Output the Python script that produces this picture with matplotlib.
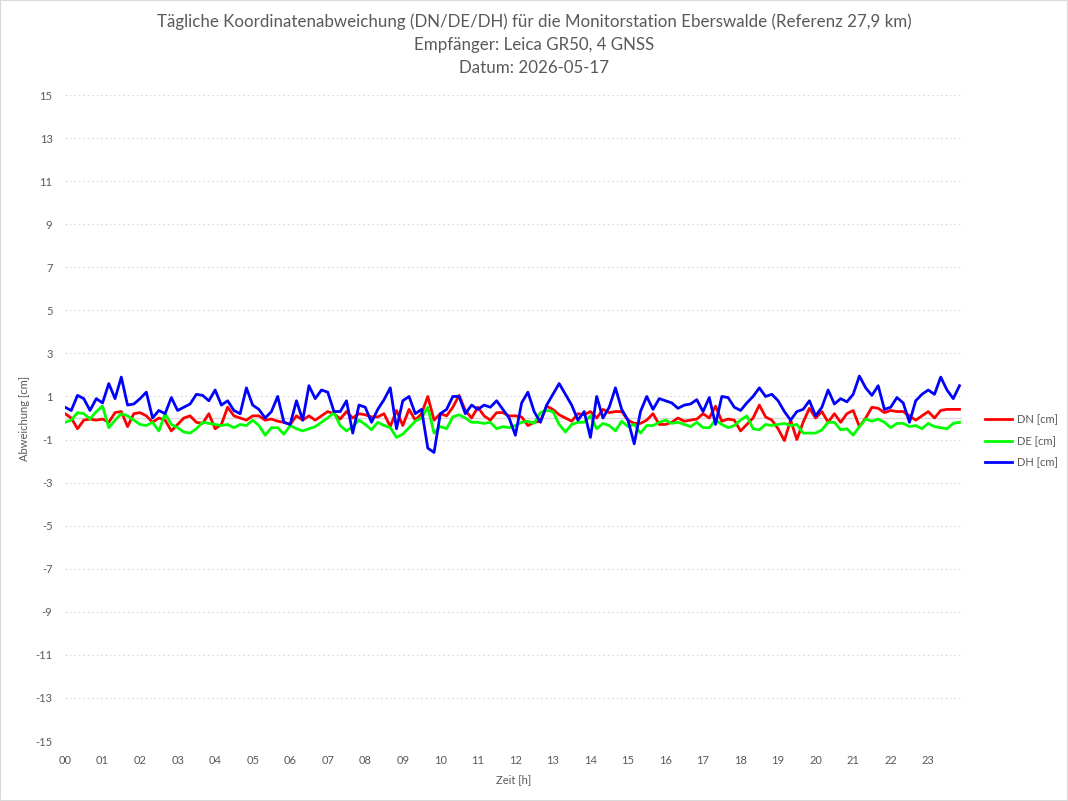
import numpy as np
import matplotlib
matplotlib.use("Agg")
import matplotlib.pyplot as plt

plt.rcParams['font.family'] = ['Lato', 'DejaVu Sans']

# 10-minute samples, 00:00 .. 23:50
hours = np.arange(144) / 6.0

dn = [0.2, 0.0, -0.5, -0.1, -0.05, -0.1, -0.05, -0.2, 0.25, 0.3, -0.4, 0.2,
      0.25, 0.1, -0.2, 0.0, -0.1, -0.6, -0.3, 0.0, 0.1, -0.2, -0.25, 0.2,
      -0.5, -0.3, 0.5, 0.1, 0.0, -0.1, 0.1, 0.1, -0.1, -0.05, -0.15, -0.2,
      -0.3, 0.1, -0.1, 0.1, -0.1, 0.1, 0.3, 0.2, -0.05, 0.3, 0.0, 0.2,
      0.15, 0.05, 0.05, 0.2, -0.4, 0.35, -0.35, 0.4, -0.1, 0.2, 1.0, -0.1,
      0.2, 0.1, 0.5, 1.05, 0.35, 0.0, 0.5, 0.1, -0.1, 0.25, 0.25, 0.1,
      0.1, 0.05, -0.35, -0.2, -0.15, 0.55, 0.4, 0.15, 0.0, -0.15, 0.2, 0.15,
      0.3, 0.0, 0.4, 0.25, 0.3, 0.3, -0.1, -0.25, -0.25, -0.1, 0.2, -0.3,
      -0.3, -0.2, 0.0, -0.15, -0.1, -0.05, 0.2, 0.0, 0.55, -0.15, -0.05, -0.1,
      -0.6, -0.3, 0.0, 0.6, 0.05, -0.1, -0.5, -1.05, -0.1, -1.0, -0.2, 0.45,
      0.0, 0.3, -0.2, 0.2, -0.2, 0.2, 0.35, -0.4, 0.0, 0.5, 0.45, 0.25,
      0.35, 0.3, 0.3, 0.1, -0.1, 0.1, 0.3, 0.0, 0.35, 0.4, 0.4, 0.4]

de = [-0.2, -0.1, 0.25, 0.2, -0.05, 0.3, 0.55, -0.45, -0.1, 0.2, 0.1, -0.1,
      -0.3, -0.35, -0.2, -0.6, 0.2, -0.3, -0.45, -0.65, -0.7, -0.5, -0.2, -0.25,
      -0.3, -0.35, -0.3, -0.45, -0.3, -0.35, -0.1, -0.35, -0.8, -0.45, -0.45, -0.75,
      -0.35, -0.5, -0.6, -0.5, -0.4, -0.2, 0.0, 0.25, -0.35, -0.6, -0.4, -0.1,
      -0.3, -0.55, -0.2, -0.35, -0.45, -0.9, -0.75, -0.45, -0.15, 0.0, 0.5, -0.7,
      -0.4, -0.5, 0.05, 0.15, 0.0, -0.2, -0.2, -0.25, -0.2, -0.5, -0.4, -0.45,
      -0.35, -0.2, -0.15, -0.25, 0.25, 0.35, 0.3, -0.3, -0.65, -0.3, -0.2, -0.2,
      0.1, -0.5, -0.25, -0.35, -0.6, -0.15, -0.4, -0.3, -0.7, -0.35, -0.35, -0.2,
      -0.1, -0.25, -0.2, -0.3, -0.4, -0.2, -0.45, -0.45, -0.1, -0.3, -0.45, -0.35,
      -0.1, 0.1, -0.5, -0.55, -0.3, -0.35, -0.3, -0.25, -0.35, -0.3, -0.7, -0.7,
      -0.7, -0.55, -0.2, -0.2, -0.55, -0.5, -0.8, -0.4, -0.05, -0.15, -0.05, -0.2,
      -0.45, -0.25, -0.25, -0.4, -0.35, -0.5, -0.25, -0.4, -0.45, -0.5, -0.25, -0.2]

dh = [0.5, 0.35, 1.05, 0.9, 0.35, 0.9, 0.7, 1.6, 0.9, 1.9, 0.6, 0.65,
      0.9, 1.2, 0.0, 0.35, 0.2, 0.95, 0.35, 0.5, 0.65, 1.1, 1.05, 0.8,
      1.3, 0.6, 0.8, 0.35, 0.2, 1.4, 0.6, 0.4, 0.0, 0.3, 1.0, -0.2,
      -0.3, 0.8, -0.1, 1.5, 0.9, 1.3, 1.2, 0.3, 0.3, 0.8, -0.7, 0.6,
      0.5, -0.2, 0.4, 0.85, 1.4, -0.5, 0.8, 1.0, 0.2, 0.4, -1.4, -1.6,
      0.2, 0.4, 1.0, 1.0, 0.2, 0.6, 0.4, 0.6, 0.5, 0.8, 0.4, 0.0,
      -0.8, 0.7, 1.2, 0.3, -0.2, 0.6, 1.1, 1.6, 1.1, 0.6, -0.1, 0.3,
      -0.9, 1.0, 0.0, 0.5, 1.4, 0.4, -0.1, -1.2, 0.3, 1.0, 0.4, 0.9,
      0.8, 0.7, 0.45, 0.6, 0.65, 0.85, 0.3, 0.95, -0.3, 1.0, 0.95, 0.5,
      0.35, 0.7, 1.0, 1.4, 1.0, 1.1, 0.8, 0.3, -0.1, 0.3, 0.4, 0.8,
      0.1, 0.5, 1.3, 0.65, 0.9, 0.75, 1.1, 1.95, 1.4, 1.05, 1.5, 0.4,
      0.5, 0.95, 0.7, -0.2, 0.8, 1.1, 1.3, 1.1, 1.9, 1.3, 0.9, 1.5]

series_names = ['DN [cm]', 'DE [cm]', 'DH [cm]']
series_colors = ['#FF0000', '#00FF00', '#0000FF']
y_ticks = list(range(-15, 16, 2))
x_labels = ['%02d' % h for h in range(24)]

text_color = '#595959'

fig = plt.figure(figsize=(10.68, 8.01), dpi=100)
ax = fig.add_axes([65 / 1068, 1 - 741 / 801, (962 - 65) / 1068, (741 - 95) / 801])

for values, name, color in zip([dn, de, dh], series_names, series_colors):
    ax.plot(hours, values, color=color, lw=2.0, label=name, solid_joinstyle='round')

ax.set_xlim(0, 23.9)
ax.set_ylim(-15, 15)
ax.set_yticks(y_ticks)
ax.set_yticklabels([str(v) for v in y_ticks])
ax.set_xticks(range(24))
ax.set_xticklabels(x_labels)
ax.tick_params(axis='y', length=0, labelsize=8, labelcolor=text_color, pad=9)
ax.tick_params(axis='x', length=0, labelsize=8, labelcolor=text_color, pad=10)
for s in ax.spines.values():
    s.set_visible(False)
for v in y_ticks:
    ax.axhline(v, color='#D9D9D9', lw=0.8, ls=(0, (1.5, 2.5)), zorder=0)
ax.axhline(0, color='#D9D9D9', lw=1.0, zorder=0)

ax.set_xlabel('Zeit [h]', fontsize=8, color=text_color, labelpad=6)
ax.set_ylabel('Abweichung [cm]', fontsize=8, color=text_color, labelpad=4)

fig.text(0.5, 1 - 22 / 801,
         'Tägliche Koordinatenabweichung (DN/DE/DH) für die Monitorstation Eberswalde (Referenz 27,9 km)',
         ha='center', va='center', fontsize=12.2, color=text_color)
fig.text(0.5, 1 - 45 / 801, 'Empfänger: Leica GR50, 4 GNSS',
         ha='center', va='center', fontsize=12.2, color=text_color)
fig.text(0.5, 1 - 68 / 801, 'Datum: 2026-05-17',
         ha='center', va='center', fontsize=12.2, color=text_color)

leg = ax.legend(loc='center left', bbox_to_anchor=(1.015, 0.464), frameon=False,
                fontsize=8, handlelength=2.4, labelspacing=0.95, handletextpad=0.4)
for t in leg.get_texts():
    t.set_color(text_color)

fig.patches.append(matplotlib.patches.Rectangle((0, 0), 1, 1, transform=fig.transFigure,
                                                fill=False, edgecolor='#D9D9D9', lw=1.5))

fig.savefig('out.png', dpi=100)
